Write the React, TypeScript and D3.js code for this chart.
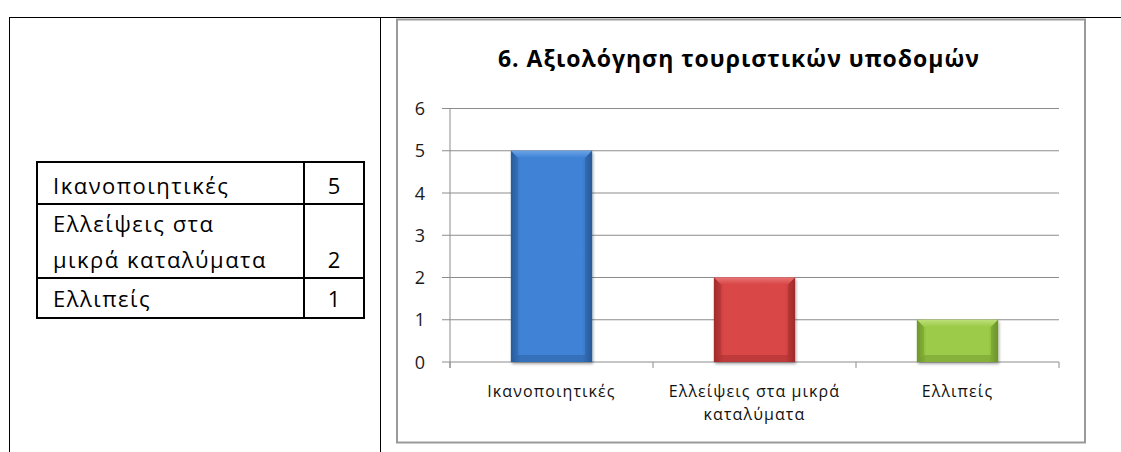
import React from "react";
import * as d3 from "d3";

const title = "6. Αξιολόγηση τουριστικών υποδομών";
const categories = ["Ικανοποιητικές", "Ελλείψεις στα μικρά καταλύματα", "Ελλιπείς"];
const values = [5, 2, 1];
const yTicks = [0, 1, 2, 3, 4, 5, 6];
const tableLabelLines = [["Ικανοποιητικές"], ["Ελλείψεις στα", "μικρά καταλύματα"], ["Ελλιπείς"]];
const barColors = [
  { mid: "#3f83d6", edge: "#2b5fa2", light: "#6aa3e6", dark: "#244f88" },
  { mid: "#d94646", edge: "#a82f2f", light: "#e87474", dark: "#8e2424" },
  { mid: "#9ccb48", edge: "#729e2c", light: "#bde07a", dark: "#5f8524" },
];

const W = 1121;
const H = 452;
const FONT = "'Open Sans', 'Noto Sans', sans-serif";

function wrap(label: string, maxChars: number): string[] {
  const words = label.split(" ");
  const lines: string[] = [];
  let cur = "";
  for (const w of words) {
    const t = cur ? cur + " " + w : w;
    if (t.length > maxChars && cur) {
      lines.push(cur);
      cur = w;
    } else cur = t;
  }
  if (cur) lines.push(cur);
  return lines;
}

export default function App() {
  const plotLeft = 450;
  const plotRight = 1059;
  const x = d3.scaleBand<string>().domain(categories).range([plotLeft, plotRight]).paddingInner(0.6).paddingOuter(0.3);
  const y = d3.scaleLinear().domain([0, 6]).range([362, 108.5]);
  const step = x.step();
  const bw = x.bandwidth();

  // table geometry
  const tL = 37, tR = 364, tC = 304;
  const rowBounds = [162, 204, 278, 318];
  const baselines = [[194], [232, 268], [307]];

  return (
    <svg width={W} height={H} style={{ position: "absolute", left: 0, top: 0 }} fontFamily={FONT}>
      <defs>
        {barColors.map((c, i) => (
          <g key={i}>
            <linearGradient id={`bg${i}`} x1="0" x2="1" y1="0" y2="0">
              <stop offset="0" stopColor={c.edge} />
              <stop offset="0.12" stopColor={c.mid} />
              <stop offset="0.88" stopColor={c.mid} />
              <stop offset="1" stopColor={c.edge} />
            </linearGradient>
            <linearGradient id={`bt${i}`} x1="0" x2="0" y1="0" y2="1">
              <stop offset="0" stopColor={c.light} />
              <stop offset="1" stopColor={c.mid} />
            </linearGradient>
          </g>
        ))}
        <filter id="shadow" x="-10%" y="-10%" width="130%" height="130%">
          <feGaussianBlur in="SourceAlpha" stdDeviation="1.5" />
          <feOffset dx="1" dy="2" result="o" />
          <feComponentTransfer><feFuncA type="linear" slope="0.35" /></feComponentTransfer>
          <feMerge><feMergeNode /><feMergeNode in="SourceGraphic" /></feMerge>
        </filter>
      </defs>

      {/* outer document table lines */}
      <line x1={9} x2={W} y1={17.5} y2={17.5} stroke="#000" strokeWidth={1} />
      <line x1={9.5} x2={9.5} y1={17} y2={H} stroke="#000" strokeWidth={1} />
      <line x1={380.5} x2={380.5} y1={17} y2={H} stroke="#000" strokeWidth={1} />

      {/* inner data table */}
      <rect x={tL} y={rowBounds[0]} width={tR - tL} height={rowBounds[3] - rowBounds[0]} fill="none" stroke="#000" strokeWidth={2} />
      <line x1={tC} x2={tC} y1={rowBounds[0]} y2={rowBounds[3]} stroke="#000" strokeWidth={2} />
      {rowBounds.slice(1, 3).map((yy, i) => (
        <line key={i} x1={tL} x2={tR} y1={yy} y2={yy} stroke="#000" strokeWidth={2} />
      ))}
      {tableLabelLines.map((lines, r) => (
        <g key={r}>
          {lines.map((ln, k) => (
            <text key={k} x={53} y={baselines[r][k]} fontSize={22} letterSpacing={1.5} fill="#000">{ln}</text>
          ))}
          <text x={(tC + tR) / 2} y={baselines[r][baselines[r].length - 1]} fontSize={22} textAnchor="middle" fill="#000">
            {values[r]}
          </text>
        </g>
      ))}

      {/* chart frame */}
      <rect x={397} y={19.5} width={688} height={423} fill="#fff" stroke="#9a9a9a" strokeWidth={2} />

      <text x={739} y={67} textAnchor="middle" fontSize={23} letterSpacing={1} fontWeight="bold" fill="#000">{title}</text>

      {/* gridlines */}
      {yTicks.map((t) => (
        <g key={t}>
          <line x1={plotLeft - 8} x2={plotRight} y1={y(t)} y2={y(t)} stroke="#8c8c8c" strokeWidth={1} />
          <text x={420} y={y(t) + 6.5} textAnchor="middle" fontSize={18} fill="#1a1a1a">{t}</text>
        </g>
      ))}
      <line x1={plotLeft} x2={plotLeft} y1={y(6)} y2={y(0) + 6} stroke="#8c8c8c" strokeWidth={1} />
      {d3.range(categories.length + 1).map((i) => (
        <line key={i} x1={plotLeft + i * step} x2={plotLeft + i * step} y1={y(0)} y2={y(0) + 6} stroke="#8c8c8c" strokeWidth={1} />
      ))}

      {/* bars */}
      {categories.map((c, i) => {
        const x0 = x(c)!;
        const y0 = y(values[i]);
        const y1 = y(0);
        const b = 7;
        const col = barColors[i];
        return (
          <g key={c} filter="url(#shadow)">
            <rect x={x0} y={y0} width={bw} height={y1 - y0} fill={`url(#bg${i})`} />
            <polygon points={`${x0},${y0} ${x0 + bw},${y0} ${x0 + bw - b},${y0 + b} ${x0 + b},${y0 + b}`} fill={`url(#bt${i})`} />
            <polygon points={`${x0},${y1} ${x0 + bw},${y1} ${x0 + bw - b},${y1 - b} ${x0 + b},${y1 - b}`} fill={col.dark} opacity={0.35} />
            <polygon points={`${x0},${y0} ${x0 + b},${y0 + b} ${x0 + b},${y1 - b} ${x0},${y1}`} fill={col.dark} opacity={0.25} />
            <polygon points={`${x0 + bw},${y0} ${x0 + bw - b},${y0 + b} ${x0 + bw - b},${y1 - b} ${x0 + bw},${y1}`} fill={col.dark} opacity={0.35} />
          </g>
        );
      })}

      {/* category labels */}
      {categories.map((c) => {
        const lines = wrap(c, 20);
        return (
          <text key={c} x={x(c)! + bw / 2} y={397} textAnchor="middle" fontSize={16} letterSpacing={1.1} fill="#111">
            {lines.map((ln, k) => (
              <tspan key={k} x={x(c)! + bw / 2} dy={k === 0 ? 0 : 23}>{ln}</tspan>
            ))}
          </text>
        );
      })}
    </svg>
  );
}
